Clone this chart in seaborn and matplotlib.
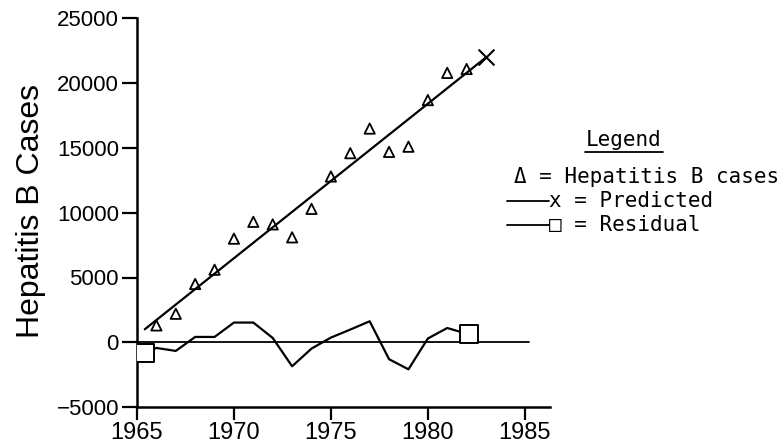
import matplotlib
matplotlib.use("Agg")
import matplotlib.pyplot as plt
import seaborn as sns
import pandas as pd
from matplotlib.lines import Line2D

# ---- data ----
case_years = [1966, 1967, 1968, 1969, 1970, 1971, 1972, 1973, 1974,
              1975, 1976, 1977, 1978, 1979, 1980, 1981, 1982]
case_values = [1300, 2200, 4500, 5600, 8000, 9300, 9100, 8100, 10300,
               12800, 14600, 16500, 14700, 15100, 18700, 20800, 21100]

pred_years = [1965.4, 1983.0]
pred_values = [1000, 22000]

resid_years = [1965.4, 1966, 1967, 1968, 1969, 1970, 1971, 1972, 1973,
               1974, 1975, 1976, 1977, 1978, 1979, 1980, 1981, 1982.1]
resid_values = [-800, -440, -670, 410, 410, 1520, 1520, 330, -1855,
                -490, 360, 980, 1620, -1310, -2090, 290, 1100, 620]

zero_x = [1965, 1985.2]
zero_y = [0, 0]

y_ticks = [-5000, 0, 5000, 10000, 15000, 20000, 25000]
x_ticks = [1965, 1970, 1975, 1980, 1985]

sns.set_theme(style="white")
plt.rcParams['font.family'] = ['Liberation Sans', 'DejaVu Sans']

fig = plt.figure(figsize=(7.81, 4.45), dpi=100)
ax = fig.add_axes([137/781, 1 - 407/445, (550 - 137)/781, (407 - 18.5)/445])

cases = pd.DataFrame({"year": case_years, "cases": case_values})
pred = pd.DataFrame({"year": pred_years, "pred": pred_values})
resid = pd.DataFrame({"year": resid_years, "resid": resid_values})

# zero reference line
sns.lineplot(x=zero_x, y=zero_y, ax=ax, color="black", linewidth=1.3)

# predicted line
sns.lineplot(data=pred, x="year", y="pred", ax=ax, color="black", linewidth=1.6)
sns.scatterplot(data=pred.iloc[[-1]], x="year", y="pred", ax=ax, marker="x",
                s=130, color="black", linewidth=1.5)

# residual line
sns.lineplot(data=resid, x="year", y="resid", ax=ax, color="black", linewidth=1.6)
sns.scatterplot(data=resid.iloc[[0, -1]], x="year", y="resid", ax=ax, marker="s",
                s=150, facecolor="white", edgecolor="black", linewidth=1.4, zorder=5)

# observed cases
sns.scatterplot(data=cases, x="year", y="cases", ax=ax, marker="^", s=55,
                facecolor="none", edgecolor="black", linewidth=1.3, zorder=4)

ax.set_xlim(1965, 1986.3)
ax.set_ylim(-5000, 25000)
ax.set_xticks(x_ticks)
ax.set_yticks(y_ticks)
ax.set_xticklabels([str(v) for v in x_ticks])
ax.set_yticklabels([str(v).replace("-", "\u2212") for v in y_ticks])
ax.tick_params(axis="both", direction="out", width=1.6, bottom=True, left=True,
               color="black", labelcolor="black")
ax.tick_params(axis="y", length=11, pad=2, labelsize=16)
ax.tick_params(axis="x", length=9, pad=1.5, labelsize=17)
for side in ["top", "right"]:
    ax.spines[side].set_visible(False)
for side in ["left", "bottom"]:
    ax.spines[side].set_color("black")
    ax.spines[side].set_linewidth(1.8)
ax.set_xlabel("")
ax.set_ylabel("Hepatitis B Cases", fontsize=23, color="black")
ax.yaxis.set_label_coords(-0.22, 0.505)

# legend block (text-styled as in reference)
mono = ["DejaVu Sans Mono"]
W, H = 781, 445
def fx(px):
    return px / W
def fy(py):
    return 1 - py / H

fig.text(fx(624), fy(140), "Legend", fontsize=15, family=mono, ha="center",
         va="center", color="black")
fig.add_artist(Line2D([fx(585), fx(663)], [fy(152), fy(152)], color="black",
                      linewidth=1.3))
fig.text(fx(514), fy(177), "\u0394 = Hepatitis B cases", fontsize=15, family=mono,
         ha="left", va="center", color="black")
fig.add_artist(Line2D([fx(507), fx(549)], [fy(201), fy(201)], color="black",
                      linewidth=1.3))
fig.text(fx(549), fy(201), "x = Predicted", fontsize=15, family=mono,
         ha="left", va="center", color="black")
fig.add_artist(Line2D([fx(507), fx(549)], [fy(225), fy(225)], color="black",
                      linewidth=1.3))
fig.text(fx(549), fy(225), "\u25a1 = Residual", fontsize=15, family=mono,
         ha="left", va="center", color="black")

fig.savefig("out.png", dpi=100)
